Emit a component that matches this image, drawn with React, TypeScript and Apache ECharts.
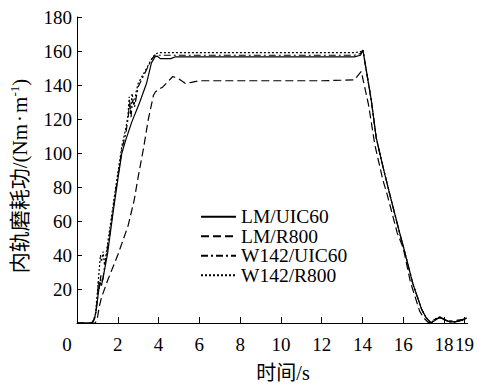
import React, { useEffect, useRef } from "react";
import * as echarts from "echarts";

const seriesNames = ["LM/UIC60", "LM/R800", "W142/UIC60", "W142/R800"];

const lmUicT = [0, 0.7, 0.85, 0.95, 1.05, 1.12, 1.2, 1.3, 1.5, 1.78, 2.02, 2.2, 2.4, 2.68, 3.08, 3.41, 3.65, 3.82, 3.92, 4.1, 4.6, 4.8, 6, 8, 10, 12, 13.6, 13.9, 14.02, 14.43, 14.67, 15.0, 15.33, 15.82, 16.0, 16.47, 16.9, 17.1, 17.35, 17.55, 17.77, 18.0, 18.3, 18.6, 18.9, 19.1];
const lmUicV = [0, 0, 2, 8, 18, 24, 22, 28, 41, 66, 86, 100, 108, 118, 130, 141, 153, 156.5, 157, 155.5, 155.5, 156.5, 156.5, 156.5, 156.5, 156.5, 156.5, 157.5, 160.5, 131, 109, 92, 76, 53, 45, 23, 8, 3.5, 0, 1.5, 3.5, 2, 0.5, 1, 1.8, 3];

const lmR800T = [0, 0.9, 1.0, 1.1, 1.2, 1.5, 2.0, 2.5, 2.8, 3.0, 3.25, 3.5, 3.75, 3.85, 4.22, 4.7, 5.0, 5.3, 5.6, 6.0, 6.5, 8, 10, 12, 13.6, 13.94, 14.3, 14.6, 15.0, 15.2, 15.7, 16.0, 16.35, 16.8, 17.0, 17.25, 17.5, 17.8, 18.2, 18.6, 19.1];
const lmR800V = [0, 0, 3, 10, 15, 25, 40, 57, 72, 86, 102, 120, 134, 136, 139, 145, 143.5, 141, 141.5, 142.5, 142.5, 142.5, 142.5, 142.5, 143, 148, 128, 105, 84, 76, 53, 44, 24, 7, 3, 0, 2, 3, 1, 1.5, 2.5];

const w142UicT = [0, 0.75, 0.9, 1.0, 1.05, 1.1, 1.17, 1.25, 1.35, 1.6, 1.9, 2.2, 2.4, 2.5, 2.58, 2.65, 2.72, 2.82, 3.0, 3.33, 3.65, 3.82, 4.0, 5, 6, 8, 10, 12, 13.6, 13.9, 14.02, 14.43, 14.67, 15.0, 15.33, 15.82, 16.0, 16.47, 16.9, 17.1, 17.35, 17.6, 17.8, 18.1, 18.5, 18.9, 19.1];
const w142UicV = [0, 0, 4, 14, 25, 20, 28, 24, 33, 52, 78, 102, 112, 120, 130, 121, 131, 127, 139, 147, 155, 157.5, 157.5, 157.5, 157.5, 157.5, 157.5, 157.5, 157.5, 158.5, 160.5, 131, 109, 92, 76, 53, 45, 23, 8, 3.5, 0, 2.5, 3.5, 1.5, 0.5, 1.5, 3];

const w142R800T = [0, 0.75, 0.9, 1.0, 1.08, 1.15, 1.2, 1.28, 1.35, 1.6, 1.9, 2.2, 2.4, 2.5, 2.56, 2.62, 2.7, 2.8, 2.9, 3.0, 3.33, 3.65, 3.82, 4.0, 5, 6, 8, 10, 12, 13.6, 13.9, 14.02, 14.43, 14.67, 15.0, 15.33, 15.82, 16.0, 16.47, 16.9, 17.1, 17.35, 17.6, 17.8, 18.1, 18.5, 18.9, 19.1];
const w142R800V = [0, 0, 5, 18, 30, 40, 36, 42, 34, 55, 80, 104, 115, 122, 133, 123, 135, 128, 136, 141, 148, 155, 158, 159, 159, 159, 159, 159, 159, 159, 159.5, 160.5, 131, 109, 92, 76, 53, 45, 23, 8, 3.5, 0, 2.5, 3.5, 1.5, 0.5, 1.5, 3];

const xTickValues = [0, 2, 4, 6, 8, 10, 12, 14, 16, 18, 19];
const yTitle = "{t|内轨磨耗功/(Nm}{d|·}{t|m}{sup|-1}{t|)}";
const xTitle = "时间/s";

const FONT = "'Liberation Serif', 'Noto Sans CJK SC', serif";

const pairs = (t: number[], v: number[]) => t.map((x, i) => [x, v[i]]);

export default function App() {
  const ref = useRef<HTMLDivElement>(null);
  useEffect(() => {
    document.body.style.margin = "0";
    if (!ref.current) return;
    const chart = echarts.init(ref.current, undefined, { renderer: "svg" });
    const dashes: any[] = ["solid", [8, 4], [7, 3, 2, 3], [2, 2]];
    const datas = [
      pairs(lmUicT, lmUicV),
      pairs(lmR800T, lmR800V),
      pairs(w142UicT, w142UicV),
      pairs(w142R800T, w142R800V),
    ];
    chart.setOption({
      animation: false,
      backgroundColor: "#ffffff",
      textStyle: { fontFamily: FONT, color: "#000" },
      grid: { left: 77, right: 9, top: 17, bottom: 68, containLabel: false },
      xAxis: {
        type: "value",
        min: 0,
        max: 19.15,
        axisLine: { lineStyle: { color: "#000", width: 1 } },
        axisTick: { inside: true, length: 6, customValues: xTickValues, lineStyle: { color: "#000" } },
        axisLabel: {
          customValues: xTickValues,
          fontFamily: FONT,
          fontSize: 19,
          color: "#000",
          margin: 12,
          formatter: (v: number) => (v === 0 ? "{z|0}" : String(v)),
          rich: { z: { fontFamily: FONT, fontSize: 19, color: "#000", padding: [0, 20, 0, 0] } },
        },
        splitLine: { show: false },
      },
      yAxis: {
        type: "value",
        min: 0,
        max: 180,
        interval: 20,
        axisLine: { show: true, lineStyle: { color: "#000", width: 1 } },
        axisTick: { show: true, inside: true, length: 5, lineStyle: { color: "#000" } },
        axisLabel: { fontFamily: FONT, fontSize: 19, color: "#000", margin: 5, showMinLabel: false },
        splitLine: { show: false },
      },
      legend: {
        orient: "vertical",
        left: 195,
        top: 202,
        itemWidth: 35,
        itemHeight: 10,
        itemGap: 0,
        itemStyle: { opacity: 0, borderWidth: 0 },
        textStyle: { fontFamily: FONT, fontSize: 19.5, color: "#000" },
        data: seriesNames,
      },
      graphic: [
        {
          type: "text",
          x: 20,
          y: 176,
          rotation: Math.PI / 2,
          style: {
            text: yTitle,
            fontFamily: FONT,
            fontSize: 21,
            fill: "#000",
            align: "center",
            verticalAlign: "middle",
            rich: {
              t: { fontFamily: FONT, fontSize: 21, fill: "#000", lineHeight: 24 },
              d: { fontFamily: FONT, fontSize: 21, fill: "#000", lineHeight: 24, padding: [0, 2, 0, 2] },
              sup: { fontFamily: FONT, fontSize: 13, fill: "#000", verticalAlign: "top", lineHeight: 14 },
            },
          },
        },
        {
          type: "text",
          x: 283,
          y: 373,
          style: {
            text: xTitle,
            fontFamily: FONT,
            fontSize: 20,
            fill: "#000",
            align: "center",
            verticalAlign: "middle",
          },
        },
      ],
      series: seriesNames.map((name, i) => ({
        name,
        type: "line",
        data: datas[i],
        symbol: "none",
        showSymbol: false,
        smooth: false,
        lineStyle: { color: "#000", width: 1.2, type: dashes[i] },
        itemStyle: { color: "#000" },
        z: 4 - i,
      })),
    });
    return () => chart.dispose();
  }, []);
  return <div ref={ref} style={{ width: 477, height: 391 }} />;
}
